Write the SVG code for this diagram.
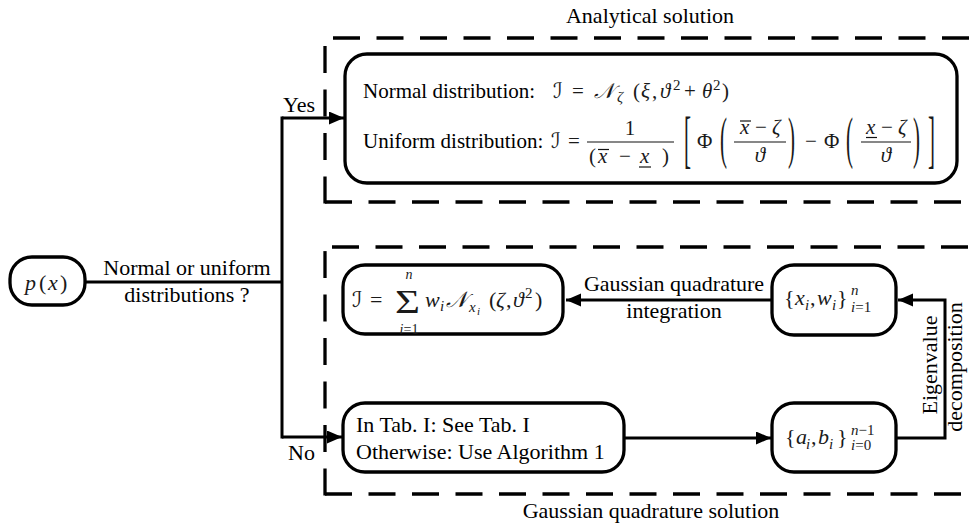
<svg xmlns="http://www.w3.org/2000/svg" width="974" height="523" viewBox="0 0 974 523">
  <defs>
    <marker id="arrow" markerUnits="userSpaceOnUse" markerWidth="16" markerHeight="14" refX="15" refY="6.5" orient="auto">
      <path d="M0,0 L15,6.5 L0,13 Z" fill="#000"/>
    </marker>
  </defs>
  <style>
    .frame{fill:none;stroke:#000;stroke-width:3.3;stroke-dasharray:27 16.5}
    .box{fill:#fff;stroke:#000;stroke-width:3.3}
    .wire{fill:none;stroke:#000;stroke-width:3}
    .rule{stroke:#111;stroke-width:1.2}
    text{font-family:"Liberation Serif","Times New Roman",serif;font-size:22px;fill:#000}
    .an{font-size:21px}
    .m{fill:#1a1a1a}
    .mi{font-style:italic}
    .sc{font-size:15px}
    .sl{font-size:14px}
    .ss{font-size:11px}
    .cal{font-family:"DejaVu Serif","DejaVu Sans",serif;font-style:italic}
  </style>

  <!-- dashed frame: analytical branch -->
  <g id="frame-analytical">
    <path class="frame" d="M333 38 H980"/>
    <path class="frame" d="M325 203.6 V38"/>
    <path class="frame" d="M325 202 H980"/>
    <text x="650" y="23" text-anchor="middle">Analytical solution</text>
  </g>

  <!-- dashed frame: quadrature branch -->
  <g id="frame-quadrature">
    <path class="frame" d="M332 247 H980"/>
    <path class="frame" d="M325 495.6 V247"/>
    <path class="frame" d="M325 494 H980"/>
    <text x="651" y="518" text-anchor="middle">Gaussian quadrature solution</text>
  </g>

  <!-- connectors -->
  <g id="connectors">
    <path class="wire" d="M85 282 H282"/>
    <path class="wire" d="M282 116.5 V438.5"/>
    <path class="wire" d="M282 118 H344" marker-end="url(#arrow)"/>
    <path class="wire" d="M282 437 H342" marker-end="url(#arrow)"/>
    <path class="wire" d="M772 300 H566" marker-end="url(#arrow)"/>
    <path class="wire" d="M624 438 H771" marker-end="url(#arrow)"/>
    <path class="wire" d="M896 438 H945 V300 H898" marker-end="url(#arrow)"/>
    <text x="187" y="275" text-anchor="middle">Normal or uniform</text>
    <text x="187" y="302" text-anchor="middle">distributions ?</text>
    <text x="283" y="112">Yes</text>
    <text x="288" y="460">No</text>
    <text x="674" y="291" text-anchor="middle">Gaussian quadrature</text>
    <text x="674" y="318" text-anchor="middle">integration</text>
    <text transform="translate(937,365) rotate(-90)" text-anchor="middle">Eigenvalue</text>
    <text transform="translate(962,367) rotate(-90)" text-anchor="middle">decomposition</text>
  </g>

  <!-- start node -->
  <g id="node-px">
    <rect class="box" x="10" y="257" width="75" height="48" rx="22"/>
    <text class="m" y="290"><tspan class="mi" x="25">p</tspan><tspan x="39">(</tspan><tspan class="mi" x="48">x</tspan><tspan x="60">)</tspan></text>
  </g>

  <!-- closed-form results -->
  <g id="node-analytical">
    <rect class="box" x="345" y="54" width="612" height="129" rx="22"/>
    <text class="an" x="363" y="98">Normal distribution:</text>
    <text class="an m" y="98"><tspan class="cal" x="553">ℐ</tspan><tspan x="572">=</tspan><tspan class="cal" x="594">𝒩</tspan><tspan class="mi sc" x="617" y="102">ζ</tspan><tspan x="633" y="98">(</tspan><tspan class="mi" x="641">ξ</tspan><tspan x="652">,</tspan><tspan class="mi" x="660">ϑ</tspan><tspan class="sc" x="673" y="90">2</tspan><tspan x="684" y="98">+</tspan><tspan class="mi" x="702">θ</tspan><tspan class="sc" x="713" y="90">2</tspan><tspan x="722" y="98">)</tspan></text>

    <text class="an" x="363" y="148">Uniform distribution:</text>
    <text class="an m" y="148"><tspan class="cal" x="551">ℐ</tspan><tspan x="568">=</tspan></text>
    <!-- 1 / (upper - lower) -->
    <text class="an m" x="630" y="135" text-anchor="middle">1</text>
    <line class="rule" x1="587" y1="142" x2="674" y2="142"/>
    <text class="an m" y="163"><tspan x="589">(</tspan><tspan class="mi" x="598">x</tspan><tspan x="619">−</tspan><tspan class="mi" x="640">x</tspan><tspan x="662">)</tspan></text>
    <line class="rule" x1="598" y1="149.5" x2="609" y2="149.5"/>
    <line class="rule" x1="639" y1="167" x2="651" y2="167"/>
    <!-- bracketed difference of CDFs -->
    <text class="an m" transform="translate(684,160) scale(1,3.02)">[</text>
    <text class="an m" x="697" y="148">Φ</text>
    <text class="an m" transform="translate(720,157) scale(1,2.68)">(</text>
    <text class="an m" y="134"><tspan class="mi" x="740">x</tspan><tspan x="755">−</tspan><tspan class="mi" x="772">ζ</tspan></text>
    <line class="rule" x1="740" y1="121" x2="751" y2="121"/>
    <line class="rule" x1="734" y1="142" x2="786" y2="142"/>
    <text class="an m mi" x="760" y="162" text-anchor="middle">ϑ</text>
    <text class="an m" transform="translate(788,157) scale(1,2.68)">)</text>
    <text class="an m" x="805" y="148">−</text>
    <text class="an m" x="824" y="148">Φ</text>
    <text class="an m" transform="translate(846,157) scale(1,2.68)">(</text>
    <text class="an m" y="134"><tspan class="mi" x="866">x</tspan><tspan x="881">−</tspan><tspan class="mi" x="898">ζ</tspan></text>
    <line class="rule" x1="866" y1="137.5" x2="877" y2="137.5"/>
    <line class="rule" x1="861" y1="142" x2="911" y2="142"/>
    <text class="an m mi" x="886" y="162" text-anchor="middle">ϑ</text>
    <text class="an m" transform="translate(913,157) scale(1,2.68)">)</text>
    <text class="an m" transform="translate(928,160) scale(1,3.02)">]</text>
  </g>

  <!-- quadrature sum -->
  <g id="node-sum">
    <rect class="box" x="343" y="265" width="220" height="69" rx="22"/>
    <text class="m" y="307"><tspan class="cal" x="352">ℐ</tspan><tspan x="370">=</tspan></text>
    <text class="m" transform="translate(395,313) scale(1.3,1.05)" style="font-size:33px">Σ</text>
    <text class="m mi sl" x="409" y="278.5" text-anchor="middle">n</text>
    <text class="m sl" x="409" y="334" text-anchor="middle"><tspan class="mi">i</tspan>=1</text>
    <text class="m" y="307"><tspan class="mi" x="425">w</tspan><tspan class="mi sc" x="440" y="311">i</tspan><tspan class="cal" x="446" y="307">𝒩</tspan><tspan class="mi sc" x="469" y="312">x</tspan><tspan class="mi ss" x="477" y="315">i</tspan><tspan x="489" y="307">(</tspan><tspan class="mi" x="496">ζ</tspan><tspan x="506">,</tspan><tspan class="mi" x="513">ϑ</tspan><tspan class="sc" x="525" y="298">2</tspan><tspan x="535" y="307">)</tspan></text>
  </g>

  <!-- nodes and weights -->
  <g id="node-xw">
    <rect class="box" x="772" y="265" width="124" height="70" rx="22"/>
    <text class="m" y="305"><tspan x="784">{</tspan><tspan class="mi" x="795">x</tspan><tspan class="mi sc" x="805" y="310">i</tspan><tspan x="810" y="305">,</tspan><tspan class="mi" x="817">w</tspan><tspan class="mi sc" x="832" y="310">i</tspan><tspan x="837" y="305">}</tspan><tspan class="mi sc" x="851" y="295">n</tspan></text>
    <text class="m sc" x="851" y="312"><tspan class="mi">i</tspan>=1</text>
  </g>

  <!-- initial condition -->
  <g id="node-table">
    <rect class="box" x="343" y="403" width="281" height="69" rx="22"/>
    <text x="356" y="432">In Tab. I: See Tab. I</text>
    <text x="356" y="459">Otherwise: Use Algorithm 1</text>
  </g>

  <!-- recurrence coefficients -->
  <g id="node-ab">
    <rect class="box" x="772" y="403" width="124" height="69" rx="22"/>
    <text class="m" y="444"><tspan x="785">{</tspan><tspan class="mi" x="796">a</tspan><tspan class="mi sc" x="806" y="449">i</tspan><tspan x="811" y="444">,</tspan><tspan class="mi" x="818">b</tspan><tspan class="mi sc" x="829" y="449">i</tspan><tspan x="837" y="444">}</tspan></text>
    <text class="m sc" x="851" y="435"><tspan class="mi">n</tspan>−1</text>
    <text class="m sc" x="851" y="450"><tspan class="mi">i</tspan>=0</text>
  </g>
</svg>
